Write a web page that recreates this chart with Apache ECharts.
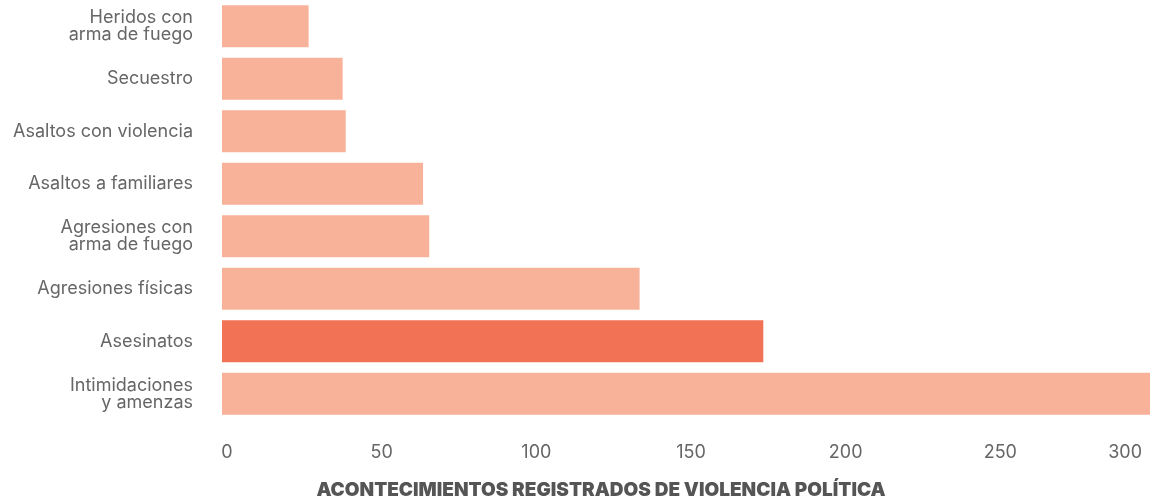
<!DOCTYPE html>
<html>
<head>
<meta charset="utf-8">
<script src="https://cdn.jsdelivr.net/npm/echarts@6/dist/echarts.min.js"></script>
<style>
html,body{margin:0;padding:0;background:#fff;}
#chart{width:1154px;height:504px;}
</style>
</head>
<body>
<div id="chart"></div>
<script>
const categories = [
  'Heridos con\narma de fuego',
  'Secuestro',
  'Asaltos con violencia',
  'Asaltos a familiares',
  'Agresiones con\narma de fuego',
  'Agresiones físicas',
  'Asesinatos',
  'Intimidaciones\ny amenzas'
];
const values = [28, 39, 40, 65, 67, 135, 175, 300];
const highlighted = ['Asesinatos'];
const axisTitle = 'ACONTECIMIENTOS REGISTRADOS DE VIOLENCIA POLÍTICA';

const LIGHT = '#F9B29A';
const DARK = '#F27255';
const FONT = 'Inter';

const chart = echarts.init(document.getElementById('chart'), null, {renderer: 'canvas'});
chart.setOption({
  animation: false,
  grid: {left: 222, right: 4, top: 0, height: 420, containLabel: false},
  xAxis: {
    type: 'value', min: 0, max: 300, interval: 50,
    axisLine: {show: false}, axisTick: {show: false}, splitLine: {show: false},
    axisLabel: {
      color: '#666', fontFamily: FONT, fontSize: 18, margin: 24,
      padding: [0, 8, 0, 18],
      alignMaxLabel: 'right'
    }
  },
  yAxis: {
    type: 'category', data: categories, inverse: true,
    axisLine: {show: false}, axisTick: {show: false}, splitLine: {show: false},
    axisLabel: {
      color: '#666', fontFamily: FONT, fontSize: 18, margin: 29,
      lineHeight: 17, align: 'right'
    }
  },
  series: [{
    type: 'bar',
    barCategoryGap: '20%',
    data: values.map((v, i) => ({
      value: v,
      itemStyle: {color: highlighted.includes(categories[i]) ? DARK : LIGHT}
    }))
  }],
  graphic: [{
    type: 'text', x: 601, y: 481,
    style: {text: axisTitle, fill: '#555', font: '900 19px Inter', textAlign: 'center'}
  }]
});
</script>
</body>
</html>
